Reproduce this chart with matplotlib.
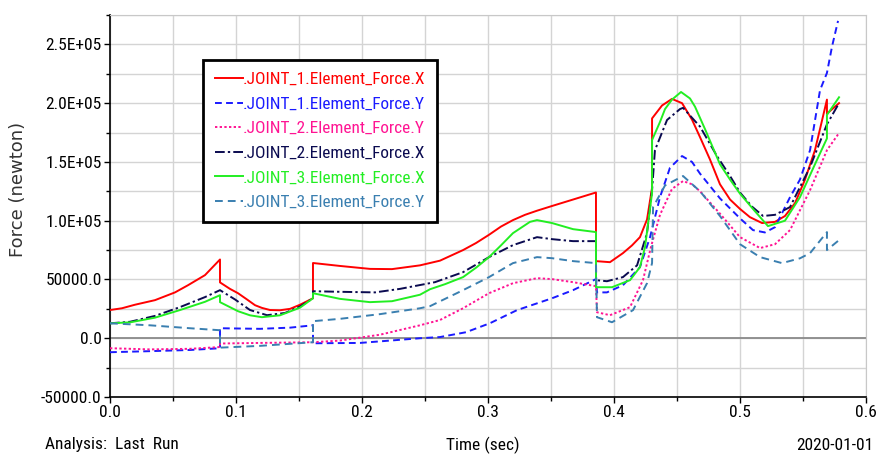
import os
import matplotlib
matplotlib.use("Agg")
import matplotlib.pyplot as plt
from matplotlib import font_manager
from matplotlib.font_manager import FontProperties
from matplotlib.ticker import MultipleLocator

# ---------------- data ----------------
t_j1x = [0, 0.0095, 0.0198, 0.0357, 0.0516, 0.0619, 0.0754, 0.0873,
         0.0873, 0.0952, 0.1016, 0.1087, 0.1151, 0.1206, 0.127, 0.1349, 0.1429, 0.1508, 0.1611,
         0.1611, 0.1825, 0.2063, 0.2238, 0.246, 0.2619, 0.2802, 0.2905, 0.3008, 0.3103,
         0.3198, 0.3294, 0.3389, 0.3508, 0.3675, 0.3857,
         0.3857, 0.3968, 0.4071, 0.4143, 0.4206, 0.4262, 0.4302,
         0.4302, 0.4381, 0.446, 0.454, 0.4619, 0.4683, 0.4762, 0.4841, 0.4921, 0.5,
         0.5079, 0.5175, 0.5278, 0.5357, 0.5437, 0.5516, 0.5595, 0.5635, 0.569,
         0.569, 0.5786]
f_j1x = [24000, 25500, 28500, 32400, 39000, 45100, 53700, 67000,
         47500, 42000, 38300, 33000, 28100, 25800, 24000, 23800, 25000, 28500, 34000,
         64000, 61500, 59000, 58800, 62000, 66000, 75000, 81000, 88000, 95000,
         100500, 105000, 108500, 112500, 118000, 124000,
         65600, 64700, 72400, 79000, 86000, 101000, 128000,
         187000, 198000, 203600, 200000, 186000, 171000, 152000, 131000, 118000, 110000,
         103000, 98000, 99000, 104000, 115000, 135000, 160000, 178000, 203000,
         191000, 200000]

t_j1y = [0, 0.0317, 0.0635, 0.0873,
         0.0873, 0.119, 0.1429, 0.1611,
         0.1611, 0.1984, 0.246, 0.2619, 0.2825, 0.3016, 0.323, 0.3508, 0.3675, 0.3857,
         0.3865, 0.3944, 0.4071, 0.4206, 0.4286, 0.4365, 0.4444, 0.454, 0.4619, 0.4683, 0.4841,
         0.5, 0.5103, 0.5198, 0.5278, 0.5397, 0.5476, 0.5556, 0.5635, 0.569, 0.573, 0.5778]
f_j1y = [-11900, -11000, -10000, -8500,
         8500, 8000, 9000, 11000,
         -4300, -4000, 0, 1000, 5100, 12800, 23900, 34000, 40900, 50300,
         39000, 39000, 45100, 60500, 86000, 120000, 145000, 155000, 150000, 140000, 119000,
         102000, 92000, 90000, 94500, 120000, 135000, 160000, 211000, 225700, 248000, 270000]

t_j2y = [0, 0.0317, 0.0635, 0.0873,
         0.0873, 0.119, 0.1611, 0.1825, 0.2143, 0.246, 0.2619, 0.2802, 0.3008, 0.3198,
         0.3389, 0.3508, 0.3675, 0.3857,
         0.3865, 0.3968, 0.4127, 0.423, 0.4294, 0.4365, 0.446, 0.4548, 0.4619, 0.4683, 0.4841,
         0.5, 0.5159, 0.5278, 0.5397, 0.5556, 0.569, 0.5786]
f_j2y = [-8500, -9500, -9000, -7500,
         -4500, -4000, -3400, -2000, 3000, 11000, 15500, 25500, 38300, 46800,
         51100, 50300, 47700, 44300,
         22100, 19600, 26400, 49400, 78000, 105000, 127000, 133700, 131000, 125000, 106000,
         86000, 76700, 80000, 92000, 126000, 160000, 174600]

t_j2x = [0, 0.0159, 0.0357, 0.0556, 0.0754, 0.0873,
         0.0992, 0.1111, 0.1246, 0.1389, 0.1508, 0.1611,
         0.1611, 0.1825, 0.2103, 0.2302, 0.2579, 0.2802, 0.3008, 0.3198, 0.3389,
         0.3508, 0.3675, 0.3857,
         0.3857, 0.3944, 0.4071, 0.4183, 0.4262, 0.4302, 0.4325, 0.4421, 0.4524, 0.4548,
         0.4683, 0.4817, 0.4921, 0.5, 0.5095, 0.5183, 0.5278, 0.5397, 0.5556, 0.569, 0.5786]
f_j2x = [12700, 14000, 19000, 26500, 35000, 40900,
         33000, 24000, 19600, 21500, 27000, 34000,
         40000, 39500, 39000, 42000, 47700, 56200, 69000, 79200, 86000,
         84300, 82600, 82600,
         49400, 48500, 52000, 62000, 89400, 126000, 160000, 185700, 195000, 196000,
         180000, 155000, 138000, 124000, 112000, 104000, 105000, 111600, 145700, 182000, 200000]

t_j3x = [0, 0.0159, 0.0357, 0.0556, 0.0754, 0.0873,
         0.0873, 0.1016, 0.1111, 0.1206, 0.1349, 0.1508, 0.1611,
         0.1611, 0.1825, 0.2063, 0.2238, 0.246, 0.254, 0.2659, 0.2802, 0.2905, 0.3008,
         0.3103, 0.3198, 0.3333, 0.3389, 0.3508, 0.3675, 0.3857,
         0.3857, 0.3984, 0.4127, 0.4206, 0.4246, 0.4302,
         0.4302, 0.4365, 0.4405, 0.446, 0.4532, 0.4603, 0.4643, 0.4722, 0.4841, 0.4921, 0.5,
         0.5119, 0.5222, 0.5357, 0.5476, 0.5595, 0.569,
         0.569, 0.5786]
f_j3x = [12700, 13500, 17500, 24000, 31000, 36600,
         30700, 23000, 19500, 17900, 19500, 26000, 34000,
         38300, 33500, 30700, 31500, 37000, 41700, 46000, 52000, 60000, 69000,
         79000, 89400, 99000, 100500, 98000, 92800, 90300,
         43400, 43400, 49400, 60500, 77500, 123500,
         168600, 184000, 195000, 203000, 209500, 204000, 197000, 178000, 148000, 135000, 123000,
         108000, 95400, 100000, 120000, 148000, 170000,
         190000, 205000]

t_j3y = [0, 0.0317, 0.0635, 0.0873,
         0.0873, 0.119, 0.1611,
         0.1611, 0.1825, 0.2143, 0.246, 0.254, 0.2802, 0.3008, 0.3198, 0.3389, 0.3508,
         0.3675, 0.3857,
         0.3865, 0.3984, 0.4151, 0.4262, 0.4302,
         0.431, 0.4405, 0.4548, 0.4683, 0.4841, 0.5, 0.5159, 0.5333, 0.5476, 0.5556, 0.569,
         0.569, 0.5786]
f_j3y = [12700, 11000, 8500, 6800,
         -8000, -6500, -3400,
         14500, 16500, 20500, 25500, 27300, 40900, 52000, 63900, 69000, 68100,
         65600, 63900,
         17900, 13600, 23900, 46800, 63900,
         111600, 130000, 138000, 125000, 104000, 80000, 69000, 63900, 68000, 72400, 90300,
         75000, 83500]

series_names = [".JOINT_1.Element_Force.X", ".JOINT_1.Element_Force.Y",
                ".JOINT_2.Element_Force.Y", ".JOINT_2.Element_Force.X",
                ".JOINT_3.Element_Force.X", ".JOINT_3.Element_Force.Y"]

x_ticks = [0.0, 0.1, 0.2, 0.3, 0.4, 0.5, 0.6]
x_tick_labels = ["0.0", "0.1", "0.2", "0.3", "0.4", "0.5", "0.6"]
y_ticks = [-50000, 0, 50000, 100000, 150000, 200000, 250000]
y_tick_labels = ["-50000.0", "0.0", "50000.0", "1.0E+05", "1.5E+05", "2.0E+05", "2.5E+05"]

# ---------------- fonts ----------------
def find_condensed():
    files = [f.fname for f in font_manager.fontManager.ttflist]
    prefs = ["liberationsansnarrow-regular", "robotocondensed-regular",
             "dejavusanscondensed.ttf", "opensans_condensed-regular",
             "opensanscondensed-regular", "notosans-condensed.ttf",
             "notosanscondensed-regular"]
    for p in prefs:
        for fn in files:
            if p in os.path.basename(fn).lower().replace(" ", ""):
                return fn
    for fn in files:
        b = os.path.basename(fn).lower()
        if ("narrow" in b or "condensed" in b) and not any(
                k in b for k in ("bold", "italic", "oblique", "light", "thin", "black",
                                 "medium", "semi", "extra")):
            return fn
    return None

cond = find_condensed()
if cond:
    fp = lambda s: FontProperties(fname=cond, size=s)
    s_tick, s_leg, s_bot = 12.5, 12.4, 12.5
else:
    fp = lambda s: FontProperties(family="Liberation Sans", size=s)
    s_tick, s_leg, s_bot = 11, 11.0, 10.8
plt.rcParams['font.family'] = ['Liberation Sans', 'DejaVu Sans']

styles = [
    dict(color="#ff0000", dashes=None),
    dict(color="#1a1aff", dashes=(3.5, 2.2)),
    dict(color="#ff1493", dashes=(1.2, 1.2)),
    dict(color="#0a0a50", dashes=(5, 1.6, 1.2, 1.6)),
    dict(color="#22ee22", dashes=None),
    dict(color="#3a7fb0", dashes=(4, 2.6)),
]
data = [(t_j1x, f_j1x), (t_j1y, f_j1y), (t_j2y, f_j2y),
        (t_j2x, f_j2x), (t_j3x, f_j3x), (t_j3y, f_j3y)]

fig = plt.figure(figsize=(8.78, 4.57), dpi=100)
ax = fig.add_axes([110/878, 1-397/457, 756/878, 382/457])

ax.set_xlim(0, 0.6)
ax.set_ylim(-50000, 275000)
ax.xaxis.set_minor_locator(MultipleLocator(0.05))
ax.yaxis.set_minor_locator(MultipleLocator(25000))
ax.set_xticks(x_ticks)
ax.set_xticklabels(x_tick_labels, fontproperties=fp(s_tick))
ax.set_yticks(y_ticks)
ax.set_yticklabels(y_tick_labels, fontproperties=fp(s_tick))
ax.grid(True, which='both', color='#d4d4d4', lw=1.0)
ax.set_axisbelow(True)
ax.axhline(0, color='#8a8a8a', lw=1.3, zorder=1)

ax.tick_params(axis='both', which='major', direction='out', length=4, width=1,
               colors='black', pad=2)
ax.tick_params(axis='both', which='minor', direction='out', length=3, width=1)
for s in ['top', 'right']:
    ax.spines[s].set_color('#c8c8c8')
for s in ['left', 'bottom']:
    ax.spines[s].set_color('black')
    ax.spines[s].set_linewidth(1.2)

handles = []
for (t, f), st, name in zip(data, styles, series_names):
    line, = ax.plot(t, f, color=st['color'], lw=1.4, label=name, zorder=3)
    if st['dashes'] is not None:
        line.set_dashes(st['dashes'])
    handles.append(line)

leg = ax.legend(handles=handles, loc='upper left', bbox_to_anchor=(0.123, 0.882),
                borderaxespad=0, fancybox=False, framealpha=1, edgecolor='black',
                prop=fp(s_leg), handlelength=1.6, handletextpad=0.0, labelspacing=0.55,
                borderpad=0.7)
leg.get_frame().set_linewidth(2.0)
for txt, st in zip(leg.get_texts(), styles):
    txt.set_color(st['color'])

fig.text(18/878, 1-189/457, "Force (newton)", rotation=90, ha='center', va='center',
         fontsize=13, family='DejaVu Sans', color='#333333')
fig.text(45/878, 1-445/457, "Analysis:  Last  Run", ha='left', va='center',
         fontproperties=fp(s_bot))
fig.text(483/878, 1-445/457, "Time (sec)", ha='center', va='center',
         fontproperties=fp(s_bot))
fig.text(874/878, 1-445/457, "2020-01-01", ha='right', va='center',
         fontproperties=fp(s_bot))

fig.savefig("out.png", dpi=100)
